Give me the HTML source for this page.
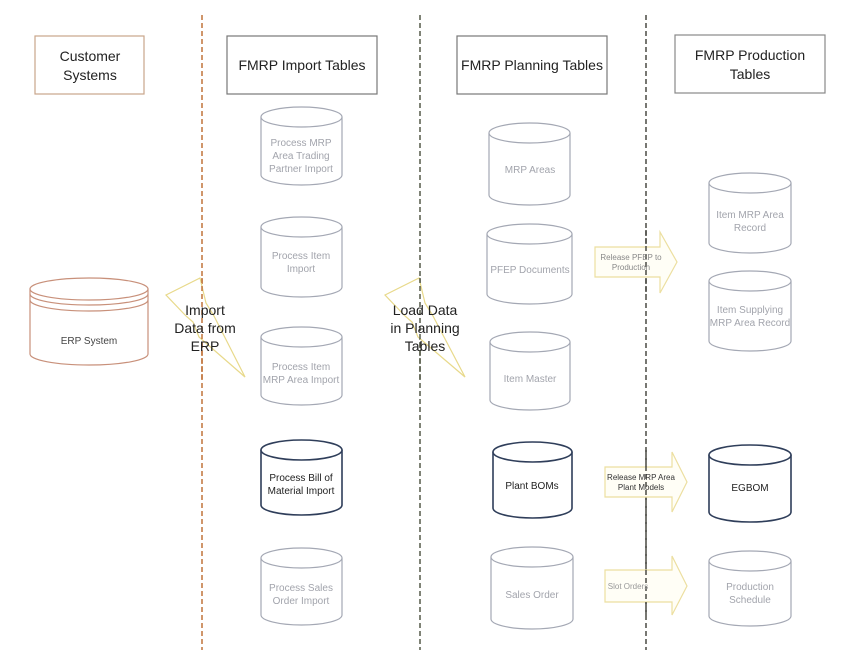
<!DOCTYPE html>
<html><head><meta charset="utf-8"><style>
html,body{margin:0;padding:0;background:#fff;}
svg{display:block;font-family:"Liberation Sans",sans-serif;}
</style></head><body>
<svg width="851" height="657" viewBox="0 0 851 657" xmlns="http://www.w3.org/2000/svg">
<rect width="851" height="657" fill="#fff"/>
<!-- dashed lines -->
<line x1="202" y1="15" x2="202" y2="650" stroke="#c0733a" stroke-width="1.5" stroke-dasharray="5,3"/>
<line x1="420" y1="15" x2="420" y2="650" stroke="#555a48" stroke-width="1.5" stroke-dasharray="5,3"/>
<line x1="646" y1="15" x2="646" y2="650" stroke="#4a4a44" stroke-width="1.5" stroke-dasharray="5,3"/>

<!-- headers -->
<g fill="#fff" stroke-width="1.2">
<rect x="35" y="36" width="109" height="58" stroke="#c9a58a"/>
<rect x="227" y="36" width="150" height="58" stroke="#777"/>
<rect x="457" y="36" width="150" height="58" stroke="#777"/>
<rect x="675" y="35" width="150" height="58" stroke="#888"/>
</g>
<g font-size="14" fill="#222" text-anchor="middle">
<text x="90" y="61">Customer</text><text x="90" y="80">Systems</text>
<text x="302" y="70">FMRP Import Tables</text>
<text x="532" y="70">FMRP Planning Tables</text>
<text x="750" y="60">FMRP Production</text><text x="750" y="79">Tables</text>
</g>

<!-- lightning bolts -->
<polygon points="166,295 200,278 206,303 214,316 245,377 199,337 193,322 186,316" fill="#fff" stroke="#e8d98a" stroke-width="1.2"/>
<polygon points="385,295 419,278 425,303 433,316 465,377 418,337 412,322 405,316" fill="#fff" stroke="#e8d98a" stroke-width="1.2"/>
<line x1="202" y1="278" x2="202" y2="380" stroke="#c0733a" stroke-width="1.5" stroke-dasharray="5,3"/>
<line x1="420" y1="278" x2="420" y2="380" stroke="#555a48" stroke-width="1.5" stroke-dasharray="5,3"/>
<g font-size="14" fill="#222" text-anchor="middle">
<text x="205" y="315">Import</text><text x="205" y="333">Data from</text><text x="205" y="351">ERP</text>
<text x="425" y="315">Load Data</text><text x="425" y="333">in Planning</text><text x="425" y="351">Tables</text>
</g>

<!-- block arrows -->
<g fill="#fffef6" stroke="#ecdfa0" stroke-width="1.2">
<polygon points="595,247 660,247 660,232 677,262 660,293 660,277 595,277"/>
<polygon points="605,467 672,467 672,452 687,482 672,512 672,497 605,497"/>
<polygon points="605,570 672,570 672,556 687,586 672,615 672,602 605,602"/>
</g>
<line x1="646" y1="230" x2="646" y2="295" stroke="#4a4a44" stroke-width="1.5" stroke-dasharray="5,3"/>
<line x1="646" y1="450" x2="646" y2="615" stroke="#4a4a44" stroke-width="1.5" stroke-dasharray="5,3"/>
<g font-size="8" text-anchor="middle">
<text x="631" y="260" fill="#888">Release PFEP to</text><text x="631" y="270" fill="#888">Production</text>
<text x="641" y="480" fill="#333">Release MRP Area</text><text x="641" y="490" fill="#333">Plant  Models</text>
<text x="628" y="589" fill="#999">Slot Orders</text>
</g>

<!-- ERP cylinder -->
<g fill="#fff" stroke="#c8907a" stroke-width="1.2">
<path d="M30,289 V354 A59,11 0 0 0 148,354 V289"/>
<ellipse cx="89" cy="289" rx="59" ry="11"/>
<path d="M30,294 A59,11 0 0 0 148,294" fill="none"/>
<path d="M30,300 A59,11 0 0 0 148,300" fill="none"/>
</g>
<text x="89" y="344" font-size="10" fill="#444" text-anchor="middle">ERP System</text>

<!-- light cylinders -->
<g fill="#fff" stroke="#a4a8b4" stroke-width="1.2">
<path d="M261,117 V175 A40.5,10 0 0 0 342,175 V117"/><ellipse cx="301.5" cy="117" rx="40.5" ry="10"/>
<path d="M261,227 V287 A40.5,10 0 0 0 342,287 V227"/><ellipse cx="301.5" cy="227" rx="40.5" ry="10"/>
<path d="M261,337 V395 A40.5,10 0 0 0 342,395 V337"/><ellipse cx="301.5" cy="337" rx="40.5" ry="10"/>
<path d="M261,558 V615 A40.5,10 0 0 0 342,615 V558"/><ellipse cx="301.5" cy="558" rx="40.5" ry="10"/>
<path d="M489,133 V195 A40.5,10 0 0 0 570,195 V133"/><ellipse cx="529.5" cy="133" rx="40.5" ry="10"/>
<path d="M487,234 V294 A42.5,10 0 0 0 572,294 V234"/><ellipse cx="529.5" cy="234" rx="42.5" ry="10"/>
<path d="M490,342 V400 A40,10 0 0 0 570,400 V342"/><ellipse cx="530" cy="342" rx="40" ry="10"/>
<path d="M491,557 V619 A41,10 0 0 0 573,619 V557"/><ellipse cx="532" cy="557" rx="41" ry="10"/>
<path d="M709,183 V243 A41,10 0 0 0 791,243 V183"/><ellipse cx="750" cy="183" rx="41" ry="10"/>
<path d="M709,281 V341 A41,10 0 0 0 791,341 V281"/><ellipse cx="750" cy="281" rx="41" ry="10"/>
<path d="M709,561 V616 A41,10 0 0 0 791,616 V561"/><ellipse cx="750" cy="561" rx="41" ry="10"/>
</g>
<!-- dark cylinders -->
<g fill="#fff" stroke="#2f3e5a" stroke-width="1.6">
<path d="M261,450 V505 A40.5,10 0 0 0 342,505 V450"/><ellipse cx="301.5" cy="450" rx="40.5" ry="10"/>
<path d="M493,452 V508 A39.5,10 0 0 0 572,508 V452"/><ellipse cx="532.5" cy="452" rx="39.5" ry="10"/>
<path d="M709,455 V512 A41,10 0 0 0 791,512 V455"/><ellipse cx="750" cy="455" rx="41" ry="10"/>
</g>

<g font-size="10" fill="#a2a4ac" text-anchor="middle">
<text x="301" y="146">Process MRP</text><text x="301" y="159">Area Trading</text><text x="301" y="172">Partner Import</text>
<text x="301" y="259">Process Item</text><text x="301" y="272">Import</text>
<text x="301" y="370">Process Item</text><text x="301" y="383">MRP Area Import</text>
<text x="301" y="591">Process Sales</text><text x="301" y="604">Order Import</text>
<text x="530" y="173">MRP Areas</text>
<text x="530" y="273">PFEP Documents</text>
<text x="530" y="382">Item Master</text>
<text x="532" y="598">Sales Order</text>
<text x="750" y="218">Item MRP Area</text><text x="750" y="231">Record</text>
<text x="750" y="313">Item Supplying</text><text x="750" y="326">MRP Area Record</text>
<text x="750" y="590">Production</text><text x="750" y="603">Schedule</text>
</g>
<g font-size="10" fill="#222" text-anchor="middle">
<text x="301" y="481">Process Bill of</text><text x="301" y="494">Material Import</text>
<text x="532" y="489">Plant BOMs</text>
<text x="750" y="491">EGBOM</text>
</g>
</svg>
</body></html>
